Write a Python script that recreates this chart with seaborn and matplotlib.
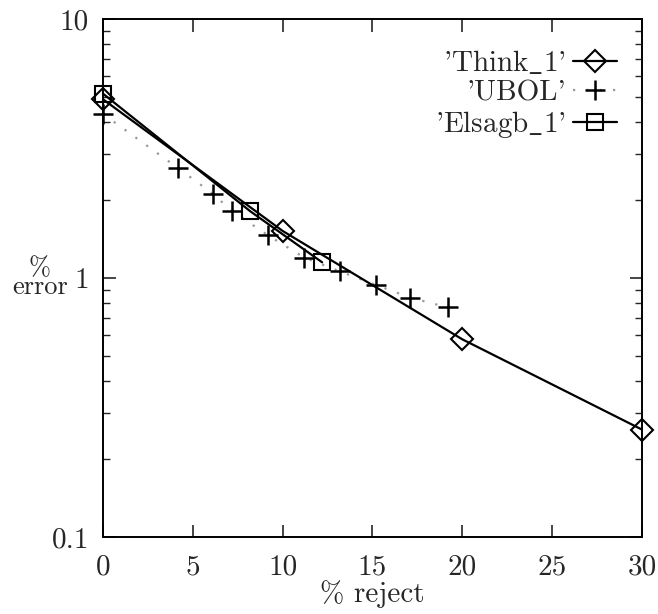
import matplotlib
matplotlib.use("Agg")
import matplotlib.pyplot as plt
import seaborn as sns
import pandas as pd
from matplotlib.ticker import FixedLocator, FixedFormatter, LogLocator, NullFormatter

# data
think_x = [0, 10, 20, 30]
think_y = [4.9, 1.52, 0.58, 0.26]
ubol_x = [0, 4.2, 6.1, 7.2, 9.2, 11.2, 13.2, 15.2, 17.1, 19.2]
ubol_y = [4.3, 2.65, 2.12, 1.81, 1.46, 1.20, 1.06, 0.94, 0.84, 0.77]
elsa_x = [0, 8.2, 12.2]
elsa_y = [5.15, 1.81, 1.15]
x_ticks = [0, 5, 10, 15, 20, 25, 30]
y_ticks = [0.1, 1, 10]
y_tick_labels = ["0.1", "1", "10"]
labels = ["'Think$\\_$1'", "'UBOL'", "'Elsagb$\\_$1'"]

sns.set_style("ticks")
FONT = ["cmr10", "DejaVu Serif"]
plt.rcParams["font.family"] = FONT
plt.rcParams["mathtext.fontset"] = "cm"
plt.rcParams["axes.formatter.use_mathtext"] = True

fig = plt.figure(figsize=(6.58, 6.14), dpi=100)
ax = fig.add_axes([0.1565, 0.1254, 0.819, 0.8436])

df_t = pd.DataFrame({"x": think_x, "y": think_y})
df_u = pd.DataFrame({"x": ubol_x, "y": ubol_y})
df_e = pd.DataFrame({"x": elsa_x, "y": elsa_y})

sns.lineplot(data=df_u, x="x", y="y", ax=ax, color="0.6", linestyle=(0, (1, 5)),
             linewidth=1.6, marker="+", markersize=15, markeredgewidth=1.8,
             markeredgecolor="black", label=labels[1], clip_on=False)
sns.lineplot(data=df_e, x="x", y="y", ax=ax, color="black", linewidth=1.6,
             marker="s", markersize=12, markerfacecolor="none", markeredgewidth=1.5,
             markeredgecolor="black", label=labels[2], clip_on=False)
sns.lineplot(data=df_t, x="x", y="y", ax=ax, color="black", linewidth=1.6,
             marker="D", markersize=11, markerfacecolor="none", markeredgewidth=1.5,
             markeredgecolor="black", label=labels[0], clip_on=False)

ax.set_yscale("log")
ax.set_xlim(0, 30)
ax.set_ylim(0.1, 10)
ax.xaxis.set_major_locator(FixedLocator(x_ticks))
ax.set_xticklabels([str(t) for t in x_ticks])
ax.yaxis.set_major_locator(FixedLocator(y_ticks))
ax.yaxis.set_major_formatter(FixedFormatter(y_tick_labels))
ax.yaxis.set_minor_locator(LogLocator(base=10, subs=range(2, 10)))
ax.yaxis.set_minor_formatter(NullFormatter())

ax.tick_params(which="both", direction="in", top=True, right=True, labelsize=21)
ax.tick_params(axis="x", pad=12)
ax.tick_params(axis="y", pad=10)
ax.tick_params(which="major", length=9, width=1.2)
ax.tick_params(which="minor", length=5, width=1.0)
for s in ax.spines.values():
    s.set_linewidth(1.4)
    s.set_color("black")

ax.set_xlabel("% reject", fontsize=21, labelpad=0)
ax.set_ylabel("%\nerror", fontsize=19, rotation=0, va="center", ha="center", linespacing=0.75)
ax.yaxis.set_label_coords(-0.117, 0.5)

h, l = ax.get_legend_handles_labels()
order = [l.index(labels[0]), l.index(labels[1]), l.index(labels[2])]
ax.legend([h[i] for i in order], [l[i] for i in order], loc="upper right",
          frameon=False, markerfirst=False, fontsize=21, handlelength=1.5,
          labelspacing=0.1, borderaxespad=0, borderpad=0, handletextpad=0.25,
          bbox_to_anchor=(0.954, 0.942))

fig.savefig("out.png", dpi=100)
